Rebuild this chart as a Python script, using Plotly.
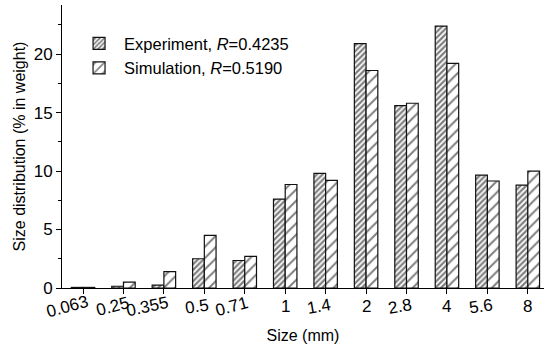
import plotly.graph_objects as go

sizes = ["0.063", "0.25", "0.355", "0.5", "0.71", "1", "1.4", "2", "2.8", "4", "5.6", "8"]
experiment = [0.05, 0.15, 0.25, 2.5, 2.35, 7.6, 9.8, 20.9, 15.6, 22.4, 9.65, 8.8]
simulation = [0.05, 0.5, 1.4, 4.5, 2.7, 8.85, 9.2, 18.6, 15.8, 19.2, 9.15, 10.0]
label_angles = [-15, -15, -12, -8, -15, 0, -10, 0, -10, 0, -8, 0]
label_offset = [-0.38, -0.27, -0.4, -0.17, -0.32, 0, -0.17, 0, -0.17, 0, -0.17, 0]  # in category units

idx = list(range(len(sizes)))
FONT = "Liberation Sans, Arial"
X_RANGE = [-0.52, 11.4]

fig = go.Figure()
fig.add_trace(go.Bar(
    x=idx, y=experiment, name="Experiment, <i>R</i>=0.4235",
    marker=dict(color="white", line=dict(color="#111", width=1.2),
                pattern=dict(shape="/", fgcolor="black", bgcolor="white", size=4, solidity=0.55)),
))
fig.add_trace(go.Bar(
    x=idx, y=simulation, name="Simulation, <i>R</i>=0.5190",
    marker=dict(color="white", line=dict(color="#111", width=1.2),
                pattern=dict(shape="/", fgcolor="black", bgcolor="white", size=8, solidity=0.25)),
))

span = X_RANGE[1] - X_RANGE[0]
for i, (s, a, dx) in enumerate(zip(sizes, label_angles, label_offset)):
    fig.add_annotation(x=(i + dx - X_RANGE[0]) / span, y=0, xref="paper", yref="paper",
                       text=s, showarrow=False,
                       textangle=a, yshift=-18, xanchor="center", yanchor="middle",
                       font=dict(family=FONT, size=17, color="black"))

fig.update_layout(
    width=544, height=348,
    margin=dict(l=62, r=0, t=5, b=60, autoexpand=False),
    plot_bgcolor="white", paper_bgcolor="white",
    barmode="group", bargap=0.42, bargroupgap=0,
    font=dict(family=FONT, size=16, color="black"),
    legend=dict(x=0.025, y=0.925, xanchor="left", yanchor="top", bgcolor="rgba(0,0,0,0)",
                font=dict(size=16.5), tracegroupgap=0, itemwidth=40),
    showlegend=True,
)
fig.update_xaxes(range=X_RANGE, showline=True, linecolor="black", linewidth=1,
                 tickmode="array", tickvals=idx, showticklabels=False,
                 ticks="outside", ticklen=5, tickcolor="black", showgrid=False, zeroline=False,
                 title=dict(text="Size (mm)", font=dict(size=16), standoff=36))
fig.update_yaxes(range=[0, 24.2], showline=True, linecolor="black", linewidth=1,
                 tickvals=[0, 5, 10, 15, 20], ticks="outside", ticklen=5, tickcolor="black",
                 minor=dict(tickvals=[2.5, 7.5, 12.5, 17.5, 22.5], ticks="outside", ticklen=3, tickcolor="black"),
                 showgrid=False, zeroline=False, tickfont=dict(size=17),
                 title=dict(text="Size distribution (% in weight)", font=dict(size=16), standoff=4))

fig.write_html("out.html")
